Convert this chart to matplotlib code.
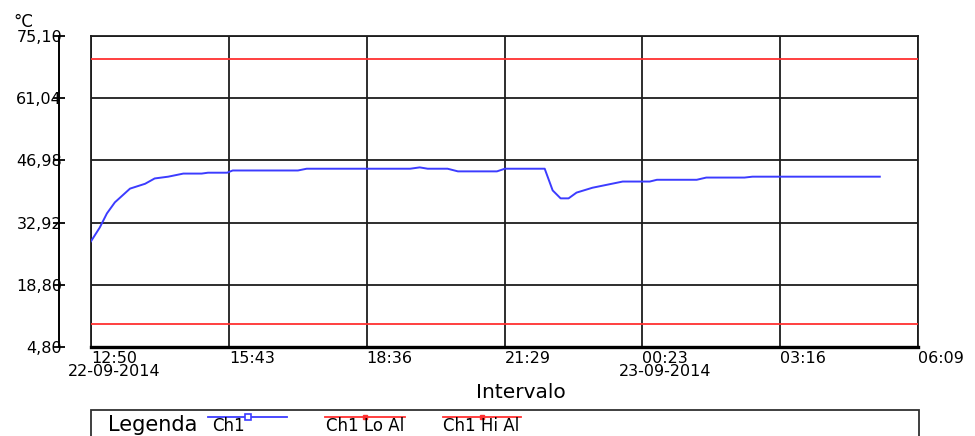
import matplotlib
matplotlib.use("Agg")
import matplotlib.pyplot as plt
import matplotlib.dates as mdates
import matplotlib.transforms as mtransforms
from matplotlib.lines import Line2D
from matplotlib.patches import Rectangle
import pandas as pd

plt.rcParams['font.family'] = ['DejaVu Sans']

# Logged channel readings (°C)
times = [
    "2014-09-22 12:50", "2014-09-22 13:01", "2014-09-22 13:10", "2014-09-22 13:20",
    "2014-09-22 13:39", "2014-09-22 13:58", "2014-09-22 14:10", "2014-09-22 14:27",
    "2014-09-22 14:46", "2014-09-22 15:09", "2014-09-22 15:17", "2014-09-22 15:41",
    "2014-09-22 15:48", "2014-09-22 17:10", "2014-09-22 17:21", "2014-09-22 19:31",
    "2014-09-22 19:43", "2014-09-22 19:53", "2014-09-22 20:18", "2014-09-22 20:31",
    "2014-09-22 21:20", "2014-09-22 21:30", "2014-09-22 22:20", "2014-09-22 22:30",
    "2014-09-22 22:40", "2014-09-22 22:50", "2014-09-22 23:00", "2014-09-22 23:20",
    "2014-09-22 23:58", "2014-09-23 00:32", "2014-09-23 00:41", "2014-09-23 01:31",
    "2014-09-23 01:43", "2014-09-23 02:31", "2014-09-23 02:41", "2014-09-23 05:21",
]
ch1 = [
    28.7, 31.8, 35.0, 37.5,
    40.6, 41.7, 42.9, 43.3,
    44.0, 44.0, 44.2, 44.2,
    44.7, 44.7, 45.1, 45.1,
    45.4, 45.1, 45.1, 44.5,
    44.5, 45.1, 45.1, 40.2,
    38.4, 38.4, 39.7, 40.8,
    42.2, 42.2, 42.6, 42.6,
    43.1, 43.1, 43.3, 43.3,
]
lo_alarm = 10.0
hi_alarm = 70.0

y_ticks = [4.80, 18.80, 32.92, 46.98, 61.04, 75.10]
y_labels = ["4,80", "18,80", "32,92", "46,98", "61,04", "75,10"]
x_start = "2014-09-22 12:50"
x_end = "2014-09-23 06:09"
x_labels = ["12:50\n22-09-2014", "15:43", "18:36", "21:29",
            "00:23\n23-09-2014", "03:16", "06:09"]
legend_labels = ["Ch1", "Ch1 Lo Al", "Ch1 Hi Al"]

W, H = 975, 436
fig = plt.figure(figsize=(W / 100, H / 100), dpi=100)
ax = fig.add_axes([91 / W, 1 - 347 / H, (918 - 91) / W, (347 - 36) / H])

BLUE = '#3c3cff'
RED = '#ff3030'
GRID = '#1c1c1c'

t = pd.to_datetime(times).to_pydatetime()
t0, t1 = pd.Timestamp(x_start), pd.Timestamp(x_end)

ax.plot(t, ch1, color=BLUE, lw=1.4, zorder=3)
ax.axhline(lo_alarm, color=RED, lw=1.3, zorder=3)
ax.axhline(hi_alarm, color=RED, lw=1.3, zorder=3)

ax.set_xlim(t0.to_pydatetime(), t1.to_pydatetime())
ax.set_ylim(y_ticks[0], y_ticks[-1])

xt = pd.date_range(t0, t1, periods=7).to_pydatetime()
ax.set_xticks(mdates.date2num(xt))
ax.set_xticklabels(x_labels, linespacing=0.85)
ax.set_yticks(y_ticks)
ax.set_yticklabels(y_labels)

ax.grid(True, color=GRID, lw=1.3)
ax.set_axisbelow(True)
ax.plot([0, 0], [0, 1], transform=ax.transAxes, color=GRID, lw=1.3, clip_on=False)

for side in ('top', 'right'):
    ax.spines[side].set_color(GRID)
    ax.spines[side].set_linewidth(1.3)
ax.spines['bottom'].set_color('black')
ax.spines['bottom'].set_linewidth(2.4)
ax.spines['left'].set_position(('outward', 23))
ax.spines['left'].set_color('black')
ax.spines['left'].set_linewidth(1.4)

ax.tick_params(axis='y', direction='inout', length=8.6, width=1.3,
               pad=-6.5, labelsize=11.5, colors='black')
ax.tick_params(axis='x', length=0, pad=3, labelsize=11.5, colors='black')

shift = mtransforms.ScaledTranslation(0.23, 0, fig.dpi_scale_trans)
for lab in ax.get_xticklabels():
    lab.set_transform(lab.get_transform() + shift)

fig.text(13 / W, 1 - 27 / H, "°C", fontsize=12, ha='left', va='baseline')
fig.text(521 / W, 1 - 392 / H, "Intervalo", fontsize=14.5, ha='center', va='center')

# Legend panel
fig.patches.append(Rectangle((91 / W, -0.1), (919 - 91) / W, 0.1 + (436 - 410) / H,
                             transform=fig.transFigure, fill=False,
                             edgecolor='#303030', lw=1.3))
fig.text(108 / W, 1 - 431 / H, "Legenda", fontsize=15, ha='left', va='baseline')

entries = [(208, 287, BLUE, 212), (325, 405, RED, 326), (443, 521, RED, 443)]
for (x0, x1, col, tx), lab in zip(entries, legend_labels):
    yy = 1 - 417 / H
    fig.add_artist(Line2D([x0 / W, x1 / W], [yy, yy], transform=fig.transFigure,
                          color=col, lw=1.3))
    if col == BLUE:
        fig.add_artist(Line2D([(x0 + x1) / 2 / W], [yy], transform=fig.transFigure,
                              marker='s', markersize=4, markerfacecolor='white',
                              markeredgecolor=col, markeredgewidth=1.2, lw=0))
    else:
        fig.add_artist(Line2D([(x0 + x1) / 2 / W], [yy], transform=fig.transFigure,
                              marker='s', markersize=2.5, color=col, lw=0))
    fig.text(tx / W, 1 - 431 / H, lab, fontsize=12, ha='left', va='baseline')

fig.savefig("out.png", dpi=100)
